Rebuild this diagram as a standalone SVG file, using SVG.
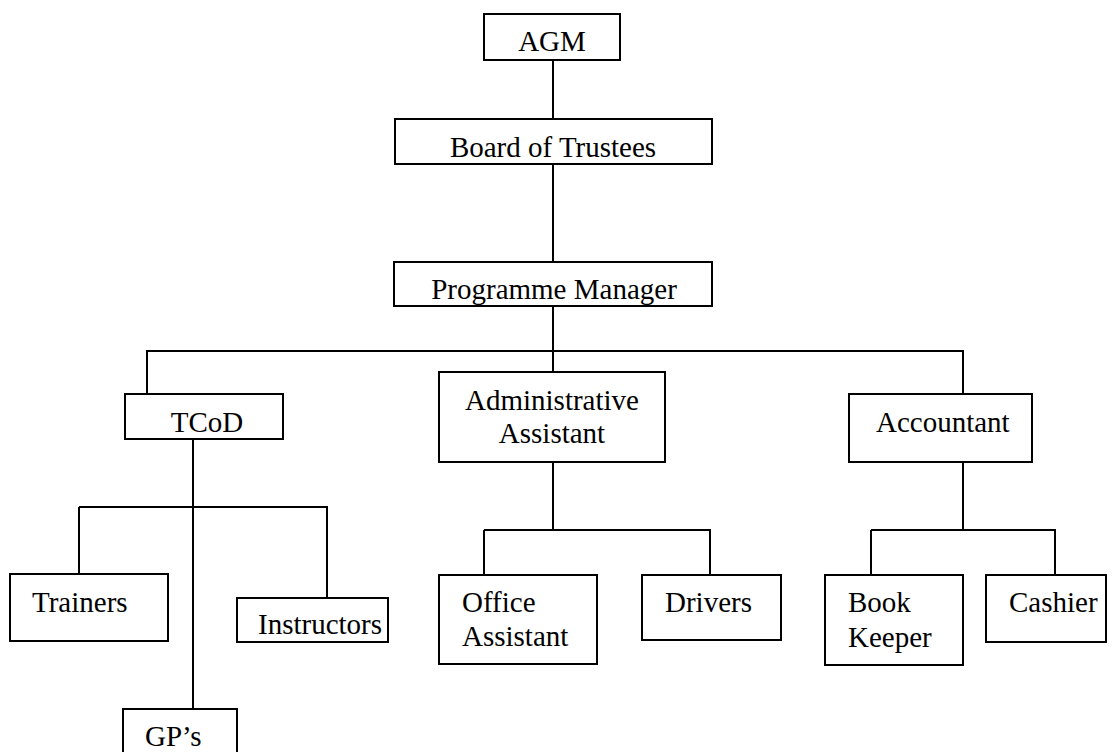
<svg xmlns="http://www.w3.org/2000/svg" width="1114" height="752" viewBox="0 0 1114 752">
<style>
rect.box{fill:#fff;stroke:#000;stroke-width:2}
.c line{stroke:#000;stroke-width:2}
text{font-family:"Liberation Serif","Times New Roman",serif;font-size:29px;fill:#000}
</style>
<rect width="1114" height="752" fill="#fff"/>
<g class="c" id="connectors">
<line x1="553" y1="60" x2="553" y2="119"/>
<line x1="553" y1="164" x2="553" y2="262"/>
<line x1="553" y1="306" x2="553" y2="351"/>
<line x1="146" y1="351" x2="964" y2="351"/>
<line x1="147" y1="351" x2="147" y2="394"/>
<line x1="553" y1="351" x2="553" y2="372"/>
<line x1="963" y1="351" x2="963" y2="394"/>
<line x1="193" y1="439" x2="193" y2="709"/>
<line x1="79" y1="507" x2="328" y2="507"/>
<line x1="79" y1="507" x2="79" y2="574"/>
<line x1="327" y1="507" x2="327" y2="598"/>
<line x1="553" y1="462" x2="553" y2="530"/>
<line x1="484" y1="530" x2="711" y2="530"/>
<line x1="484" y1="530" x2="484" y2="575"/>
<line x1="710" y1="530" x2="710" y2="575"/>
<line x1="963" y1="462" x2="963" y2="530"/>
<line x1="871" y1="530" x2="1056" y2="530"/>
<line x1="871" y1="530" x2="871" y2="575"/>
<line x1="1055" y1="530" x2="1055" y2="575"/>
</g>
<g id="agm"><rect class="box" x="484" y="14" width="136" height="46"/><text x="552" y="51" text-anchor="middle">AGM</text></g>
<g id="board"><rect class="box" x="395" y="119" width="317" height="45"/><text x="553" y="157" text-anchor="middle">Board of Trustees</text></g>
<g id="pm"><rect class="box" x="394" y="262" width="318" height="44"/><text x="554" y="299" text-anchor="middle">Programme Manager</text></g>
<g id="tcod"><rect class="box" x="125" y="394" width="158" height="45"/><text x="207" y="432" text-anchor="middle">TCoD</text></g>
<g id="admin"><rect class="box" x="439" y="372" width="226" height="90"/><text x="552" y="410" text-anchor="middle">Administrative</text><text x="552" y="443" text-anchor="middle">Assistant</text></g>
<g id="accountant"><rect class="box" x="849" y="394" width="183" height="68"/><text x="876" y="432">Accountant</text></g>
<g id="trainers"><rect class="box" x="10" y="574" width="158" height="67"/><text x="32" y="612">Trainers</text></g>
<g id="instructors"><rect class="box" x="237" y="598" width="151" height="44"/><text x="258" y="634">Instructors</text></g>
<g id="gps"><rect class="box" x="123" y="709" width="114" height="50"/><text x="145" y="746">GP’s</text></g>
<g id="office"><rect class="box" x="439" y="575" width="158" height="89"/><text x="462" y="612">Office</text><text x="462" y="646">Assistant</text></g>
<g id="drivers"><rect class="box" x="642" y="575" width="139" height="65"/><text x="665" y="612">Drivers</text></g>
<g id="bookkeeper"><rect class="box" x="825" y="575" width="138" height="90"/><text x="848" y="612">Book</text><text x="848" y="647">Keeper</text></g>
<g id="cashier"><rect class="box" x="986" y="575" width="120" height="67"/><text x="1009" y="612">Cashier</text></g>
</svg>
